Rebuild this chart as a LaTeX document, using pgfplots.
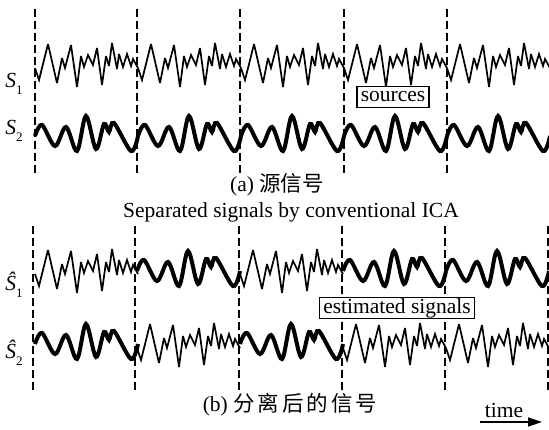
\documentclass[border=0pt]{standalone}
\usepackage{pgfplots}
\pgfplotsset{compat=1.18}
\usepackage{pgfplotstable}
\usepackage{fontspec}
\setmainfont{Liberation Serif}
\newfontfamily\cjk{Noto Sans CJK SC}
\usetikzlibrary{arrows.meta}

% S1 noise pattern: local x (px from segment start), y (px from top)
\pgfplotstableread{
x y
0 68
4 80
13 44
22 83
27 58
30 68
36 45
42 87
46 56
49 67
53 55
58 65
62 48
67 85
71 56
74 66
77 43
82 69
84 54
88 67
92 54
96 66
98 59
103 68
}\noisetab

% S2 wave pattern
\pgfplotstableread{
x y
0 136
7 125
20 146
31 127
42 151
51 116
61 149
69 124
74 132
79 123
96 151
103 136
}\wavetab

\newcommand{\bigfont}{\fontsize{21.5}{24}\selectfont}

\begin{document}
\begin{tikzpicture}
\begin{axis}[
  scale only axis, width=549pt, height=430pt,
  xmin=0, xmax=549, ymin=0, ymax=430, y dir=reverse,
  hide axis, clip=true,
]
% ---- dashed separators
\pgfplotsforeachungrouped \k in {35,137,240,344,447}{
  \edef\tmp{\noexpand\addplot[black, line width=1.6pt, dash pattern=on 8pt off 4pt] coordinates {(\k,9) (\k,176)};}
  \tmp
}
\pgfplotsforeachungrouped \k in {33,135,239,342,445,548}{
  \edef\tmp{\noexpand\addplot[black, line width=1.6pt, dash pattern=on 8pt off 4pt] coordinates {(\k,226) (\k,392)};}
  \tmp
}
% ---- top panel: S1 (noise) and S2 (wave)
\pgfplotsforeachungrouped \k in {35,138,241,344,447}{
  \edef\tmp{\noexpand\addplot[black, line width=1.7pt, miter limit=4] table[x expr=\noexpand\thisrow{x}+\k, y expr=\noexpand\thisrow{y}] {\noexpand\noisetab};}
  \tmp
  \edef\tmp{\noexpand\addplot[black, line width=4pt, smooth, tension=0.55] table[x expr=\noexpand\thisrow{x}+\k, y expr=\noexpand\thisrow{y}] {\noexpand\wavetab};}
  \tmp
}
% ---- bottom panel, row 1: noise, wave, noise, wave, wave
\addplot[black, line width=1.7pt, miter limit=4] table[x expr=\thisrow{x}+35,  y expr=\thisrow{y}+206] {\noisetab};
\addplot[black, line width=4pt, smooth, tension=0.55] table[x expr=\thisrow{x}+137, y expr=\thisrow{y}+135] {\wavetab};
\addplot[black, line width=1.7pt, miter limit=4] table[x expr=\thisrow{x}+240, y expr=\thisrow{y}+206] {\noisetab};
\addplot[black, line width=4pt, smooth, tension=0.55] table[x expr=\thisrow{x}+343, y expr=\thisrow{y}+135] {\wavetab};
\addplot[black, line width=4pt, smooth, tension=0.55] table[x expr=\thisrow{x}+446, y expr=\thisrow{y}+135] {\wavetab};
% ---- bottom panel, row 2: wave, noise, wave, noise, noise
\addplot[black, line width=4pt, smooth, tension=0.55] table[x expr=\thisrow{x}+35,  y expr=\thisrow{y}+208] {\wavetab};
\addplot[black, line width=1.7pt, miter limit=4] table[x expr=\thisrow{x}+137, y expr=\thisrow{y}+280] {\noisetab};
\addplot[black, line width=4pt, smooth, tension=0.55] table[x expr=\thisrow{x}+240, y expr=\thisrow{y}+208] {\wavetab};
\addplot[black, line width=1.7pt, miter limit=4] table[x expr=\thisrow{x}+343, y expr=\thisrow{y}+280] {\noisetab};
\addplot[black, line width=1.7pt, miter limit=4] table[x expr=\thisrow{x}+446, y expr=\thisrow{y}+280] {\noisetab};

% ---- labels
\node at (axis cs:14,84)  {\bigfont\itshape S\raisebox{-0.35em}{\upshape\fontsize{13}{13}\selectfont 1}};
\node at (axis cs:14,131) {\bigfont\itshape S\raisebox{-0.35em}{\upshape\fontsize{13}{13}\selectfont 2}};
\node at (axis cs:14,285) {\bigfont\itshape Ŝ\raisebox{-0.35em}{\upshape\fontsize{13}{13}\selectfont 1}};
\node at (axis cs:14,353) {\bigfont\itshape Ŝ\raisebox{-0.35em}{\upshape\fontsize{13}{13}\selectfont 2}};

\node[draw=black, line width=1.5pt, fill=white, inner xsep=4pt, inner ysep=0pt, minimum height=21pt] at (axis cs:393,97) {\bigfont sources};
\node[draw=black, line width=1.5pt, fill=white, inner xsep=4pt, inner ysep=0pt, minimum height=21pt] at (axis cs:397,308) {\bigfont estimated signals};

\node at (axis cs:277,185) {\bigfont (a) {\cjk 源信号}};
\node at (axis cs:291,212) {\bigfont Separated signals by conventional ICA};
\node at (axis cs:290,405) {\bigfont (b) {\cjk 分\kern3pt 离\kern3pt 后\kern3pt 的\kern3pt 信\kern3pt 号}};

\node at (axis cs:504,410) {\bigfont time};
\draw[line width=1.5pt, -{Triangle[length=14pt,width=9pt]}] (axis cs:480,422) -- (axis cs:542,422);
\end{axis}
\pgfresetboundingbox
\path[use as bounding box] (current axis.south west) rectangle (current axis.north east);
\end{tikzpicture}
\end{document}
